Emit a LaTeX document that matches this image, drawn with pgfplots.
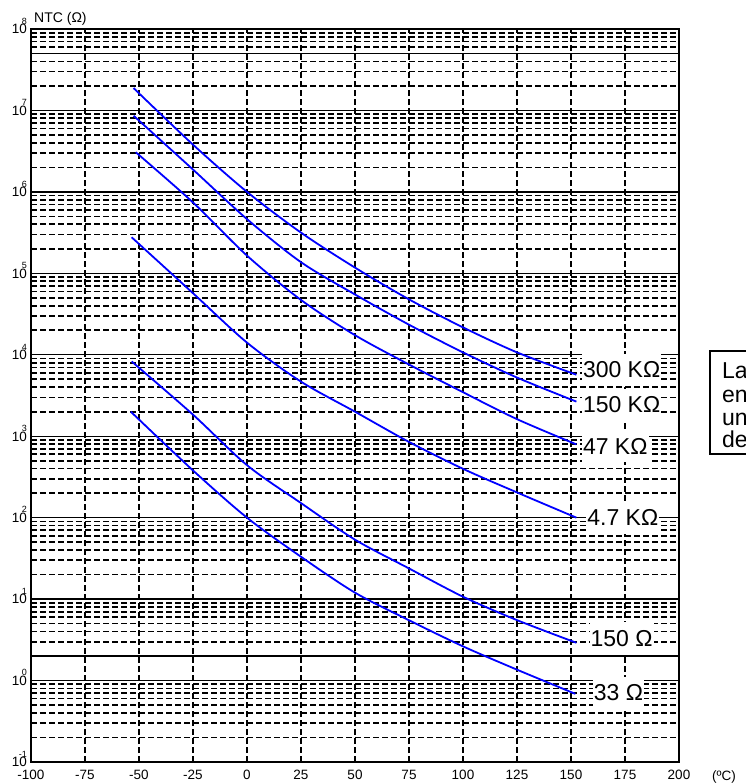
\documentclass[border=0pt]{standalone}
\usepackage{fontspec}
\setmainfont{Liberation Sans}
\usepackage{pgfplots}
\pgfplotsset{compat=1.18}
\newcommand\tl[1]{10\llap{\raisebox{9.5pt}{\fontsize{9}{9}\selectfont #1}}}
\begin{document}
\begin{tikzpicture}[x=1pt,y=1pt]
\path[use as bounding box] (0,0) rectangle (746,784);
\clip (0,0) rectangle (746,784);
\begin{axis}[
  at={(31pt,22pt)}, anchor=south west,
  scale only axis, width=648pt, height=733pt,
  xmin=-100, xmax=200, ymode=log, ymin=1e-1, ymax=1e8,
  clip=false,
  axis line style={line width=2.4pt},
  major tick length=0pt, minor tick length=0pt,
  xtick={-100,-75,-50,-25,0,25,50,75,100,125,150,175,200},
  xticklabels={-100,-75,-50,-25,0,25,50,75,100,125,150,175,200},
  minor xtick={-75,-50,-25,0,25,50,75,100,125,150,175},
  xminorgrids=true, xmajorgrids=false,
  ytick={1e-1,1,1e1,1e2,1e3,1e4,1e5,1e6,1e7,1e8},
  yticklabels={\tl{-1},\tl{0},\tl{1},\tl{2},\tl{3},\tl{4},\tl{5},\tl{6},\tl{7},\tl{8}},
  minor ytick={2e-1,3e-1,4e-1,5e-1,6e-1,7e-1,8e-1,9e-1,
    2,3,4,5,6,7,8,9,
    20,30,40,50,60,70,80,90,
    200,300,400,500,600,700,800,900,
    2000,3000,4000,5000,6000,7000,8000,9000,
    2e4,3e4,4e4,5e4,6e4,7e4,8e4,9e4,
    2e5,3e5,4e5,5e5,6e5,7e5,8e5,9e5,
    2e6,3e6,4e6,5e6,6e6,7e6,8e6,9e6,
    2e7,3e7,4e7,5e7,6e7,7e7,8e7,9e7},
  ymajorgrids=true, yminorgrids=true,
  extra y ticks={2,5e7}, extra y tick labels={},
  extra y tick style={grid=major},
  major grid style={solid, black, line width=1.4pt},
  minor grid style={black, line width=1.7pt, dash pattern=on 6pt off 3pt},
  xticklabel style={font=\fontsize{13.5}{13.5}\selectfont, anchor=north, inner sep=0pt, yshift=-8pt},
  yticklabel style={font=\fontsize{13.5}{13.5}\selectfont, anchor=base east, inner sep=0pt, xshift=-4pt, yshift=-4.8pt},
]
\addplot[blue, line width=1.8pt, smooth] coordinates {
 (-52.5,1.88e7) (-25,3.80e6) (0,1.0e6) (25,3.16e5) (50,1.175e5) (75,4.79e4) (100,2.17e4) (125,1.07e4) (152.5,5.69e3)};
\addplot[blue, line width=1.8pt, smooth] coordinates {
 (-52.5,8.61e6) (-25,1.88e6) (0,4.63e5) (25,1.37e5) (50,5.50e4) (75,2.34e4) (100,1.07e4) (125,5.25e3) (152.5,2.66e3)};
\addplot[blue, line width=1.8pt, smooth] coordinates {
 (-51.5,3.07e6) (-25,7.41e5) (0,1.65e5) (25,4.71e4) (50,1.74e4) (75,7.59e3) (100,3.47e3) (125,1.62e3) (152.5,7.94e2)};
\addplot[blue, line width=1.8pt, smooth] coordinates {
 (-53.4,2.77e5) (-25,5.70e4) (0,1.41e4) (25,4.68e3) (50,2.0e3) (75,8.51e2) (100,3.98e2) (125,2.04e2) (152.5,1.0e2)};
\addplot[blue, line width=1.8pt, smooth] coordinates {
 (-53.4,8.28e3) (-25,1.84e3) (0,4.41e2) (25,1.51e2) (50,53.7) (75,23.8) (100,10.7) (125,5.52) (152.5,2.91)};
\addplot[blue, line width=1.8pt, smooth] coordinates {
 (-53.8,2.0e3) (-25,3.80e2) (0,100) (25,33.1) (50,12.0) (75,5.50) (100,2.63) (125,1.36) (152,0.687)};
\tikzset{lab/.style={anchor=west, fill=white, inner xsep=1pt, inner ysep=0pt, minimum height=32pt, font=\fontsize{23}{23}\selectfont}}
\node[lab] at (axis cs:155,6.5e3) {300 KΩ};
\node[lab] at (axis cs:155,2.42e3) {150 KΩ};
\node[lab] at (axis cs:155,7.5e2) {47 KΩ};
\node[lab] at (axis cs:157,1e2) {4.7 KΩ};
\node[lab] at (axis cs:158.5,3.3) {150 Ω};
\node[lab] at (axis cs:160,0.71) {33 Ω};
\end{axis}
\node[anchor=base west, inner sep=0pt, font=\fontsize{14}{14}\selectfont] at (34,761) {NTC (Ω)};
\node[anchor=base west, inner sep=0pt, font=\fontsize{13.5}{13.5}\selectfont] at (712,4) {(ºC)};
\draw[line width=1.3pt] (710,330) rectangle (900,433);
\begin{scope}[every node/.style={anchor=base west, inner sep=0pt, font=\fontsize{23}{23}\selectfont}]
\node at (722,405) {La gráfica muestra};
\node at (722,381) {en escala logarítmica};
\node at (722,358) {una selección};
\node at (722,336) {de modelos};
\end{scope}
\end{tikzpicture}
\end{document}
